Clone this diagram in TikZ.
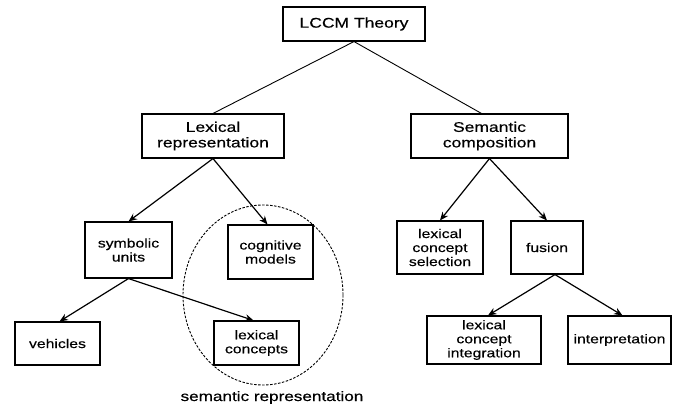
\documentclass[tikz,border=0pt]{standalone}
\usepackage{fontspec}
\setmainfont[FakeStretch=1.25, FakeBold=0.4]{Liberation Sans}
\usepackage{tikz}
\usetikzlibrary{arrows.meta}

\tikzset{
  box/.style={draw, line width=1.1pt, align=center, inner sep=0pt,
    font=\fontsize{14}{15.5}\selectfont},
  smallbox/.style={box, font=\fontsize{12.6}{14}\selectfont},
  link/.style={line width=0.9pt},
  arrow/.style={->, line width=1.2pt}
}

\begin{document}
\begin{tikzpicture}[x=1pt, y=-1pt, >={Stealth[length=8.5pt, width=7pt]}]
  \useasboundingbox (0,0) rectangle (673,405);

  \node [box, minimum width=142, minimum height=34] (Theory) at (354,24) {LCCM Theory};

  \node [box, minimum width=142, minimum height=44] (LexRep) at (213,136) {Lexical\\representation};
  \node [box, minimum width=157, minimum height=44] (SemComp) at (489.5,136) {Semantic\\composition};

  \node [smallbox, minimum width=87, minimum height=56] (Symb) at (128.5,250) {symbolic\\units};
  \node [smallbox, minimum width=85, minimum height=54] (CogMod) at (270.5,252) {cognitive\\models};
  \node [smallbox, minimum width=86, minimum height=53] (LcSel) at (440,247.5) {lexical\\concept\\selection};
  \node [smallbox, minimum width=72, minimum height=53] (Fusion) at (547,247.5) {fusion};

  \node [smallbox, minimum width=85, minimum height=43] (Vehicles) at (57.5,343.5) {vehicles};
  \node [smallbox, minimum width=85, minimum height=44] (LexCon) at (256.5,343) {lexical\\concepts};
  \node [smallbox, minimum width=114, minimum height=48] (LcInt) at (484,340) {lexical\\concept\\integration};
  \node [smallbox, minimum width=103, minimum height=48] (Interp) at (619.5,340) {interpretation};

  \draw [link] (Theory.south) -- (LexRep.north);
  \draw [link] (Theory.south) -- ([xshift=-8]SemComp.north);

  \draw [arrow] (LexRep.south) -- (Symb.north);
  \draw [arrow] (LexRep.south) -- ([xshift=-3]CogMod.north);
  \draw [arrow] (SemComp.south) -- (LcSel.north);
  \draw [arrow] (SemComp.south) -- (Fusion.north);

  \draw [arrow] (Symb.south) -- ([xshift=2]Vehicles.north);
  \draw [arrow] (Symb.south) -- ([xshift=-3]LexCon.north);
  \draw [arrow] ([xshift=8]Fusion.south) -- ([xshift=4]LcInt.north);
  \draw [arrow] ([xshift=8]Fusion.south) -- ([xshift=3]Interp.north);

  \draw [line width=0.9pt, dash pattern=on 2.5pt off 1.5pt] (263,295) ellipse [x radius=80, y radius=90];
  \node [anchor=base, font=\fontsize{13.7}{15}\selectfont] (SemRepLabel) at (272,401) {semantic representation};
\end{tikzpicture}
\end{document}
